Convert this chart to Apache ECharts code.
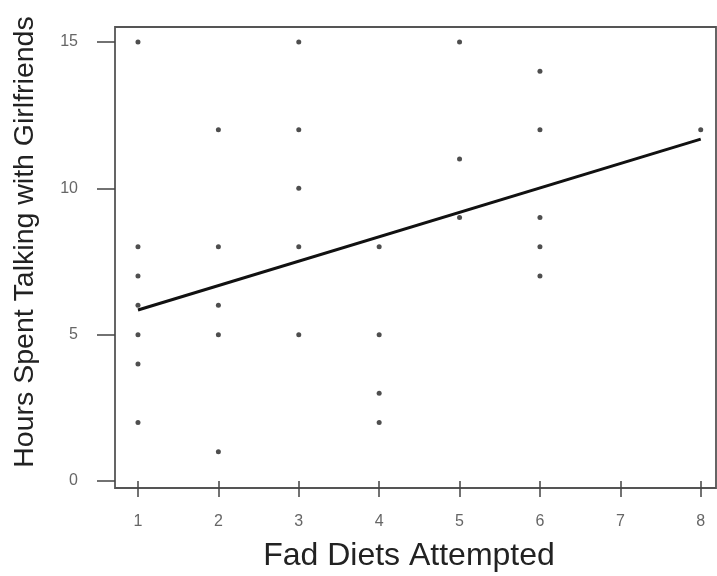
<!DOCTYPE html>
<html>
<head>
<meta charset="utf-8">
<script src="https://cdn.jsdelivr.net/npm/echarts@6/dist/echarts.min.js"></script>
<style>html,body{margin:0;padding:0;background:#fff}#c{width:717px;height:576px}</style>
</head>
<body>
<div id="c"></div>
<script>
// Data
var dietsAttempted = [1,1,1,1,1,1,1, 2,2,2,2,2, 3,3,3,3,3, 4,4,4,4, 5,5,5, 6,6,6,6,6, 8];
var hoursTalking   = [15,8,7,6,5,4,2, 12,8,6,5,1, 15,12,10,8,5, 8,5,3,2, 15,11,9, 14,12,9,8,7, 12];
var fitX = [1, 8];
var fitY = [5.84, 11.68];
var xTicks = [1,2,3,4,5,6,7,8];
var yTicks = [0,5,10,15];
var xTitle = 'Fad Diets Attempted';
var yTitle = 'Hours Spent Talking with Girlfriends';

var FONT = "'Liberation Sans', Arial, sans-serif";
var chart = echarts.init(document.getElementById('c'));
var pts = dietsAttempted.map(function (x, i) { return [x, hoursTalking[i]]; });
var fit = fitX.map(function (x, i) { return [x, fitY[i]]; });

chart.setOption({
  animation: false,
  backgroundColor: '#fff',
  grid: { left: 115, top: 27, right: 1, bottom: 88, show: true, borderColor: '#555', borderWidth: 1.8 },
  xAxis: {
    type: 'value', min: 0.714, max: 8.19,
    axisLine: { show: false },
    splitLine: { show: false },
    axisTick: { show: true, customValues: xTicks, length: 16, lineStyle: { color: '#444', width: 1.5 } },
    axisLabel: { customValues: xTicks, margin: 26, fontSize: 16, color: '#666', fontFamily: FONT }
  },
  yAxis: {
    type: 'value', min: -0.24, max: 15.51,
    axisLine: { show: false },
    splitLine: { show: false },
    axisTick: { show: true, customValues: yTicks, length: 18, lineStyle: { color: '#444', width: 1.5 } },
    axisLabel: { customValues: yTicks, margin: 37, fontSize: 16, color: '#666', fontFamily: FONT }
  },
  series: [
    { type: 'scatter', data: pts, symbol: 'circle', symbolSize: 5, itemStyle: { color: '#222' } },
    { type: 'line', data: fit, showSymbol: false, symbol: 'none', lineStyle: { color: '#111', width: 3 } }
  ],
  graphic: [
    { type: 'text', x: 409, y: 556, style: { text: xTitle, font: '32px ' + FONT, fill: '#222', align: 'center', verticalAlign: 'middle' } },
    { type: 'text', x: 25, y: 242, rotation: Math.PI / 2, style: { text: yTitle, font: '28.5px ' + FONT, fill: '#222', align: 'center', verticalAlign: 'middle' } }
  ]
});
</script>
</body>
</html>
